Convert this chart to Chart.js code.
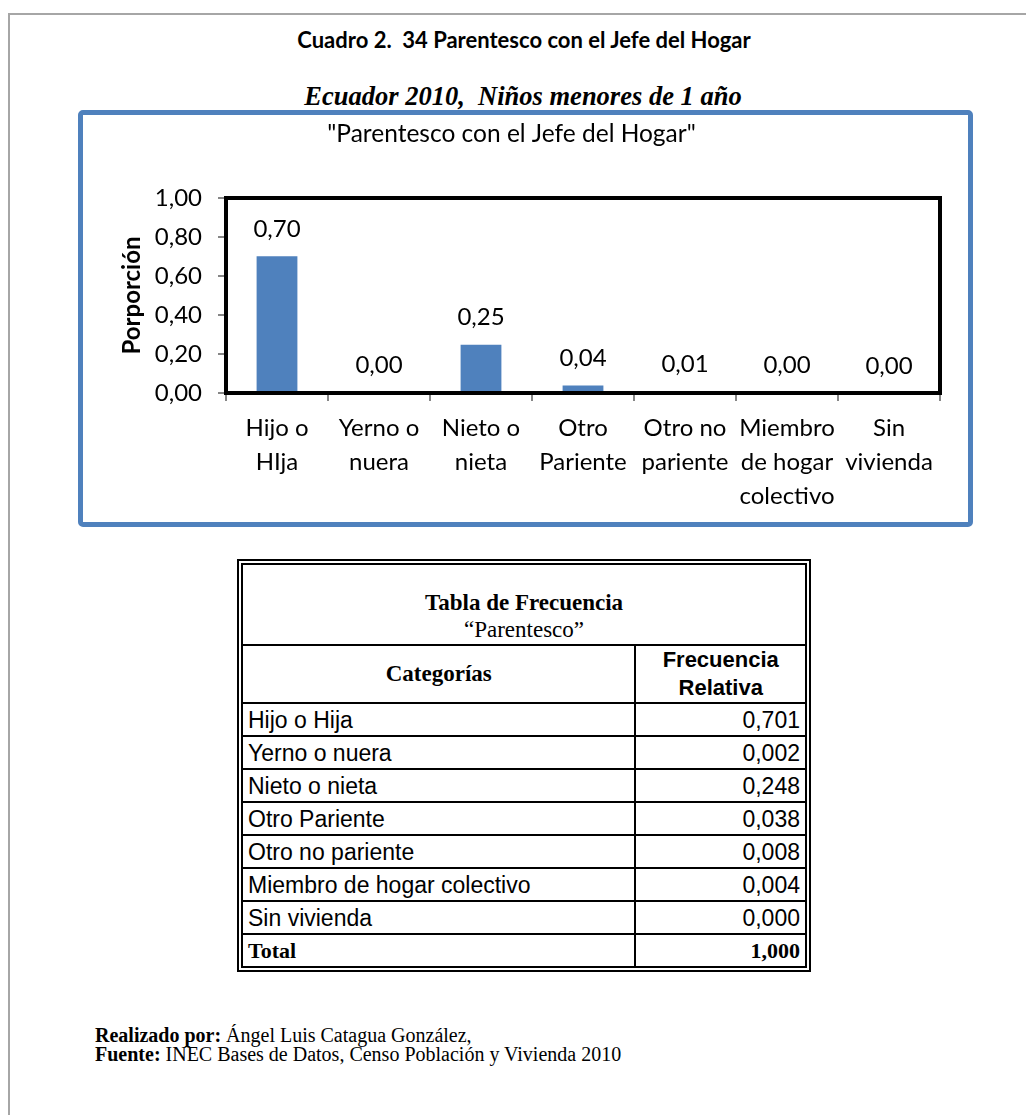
<!DOCTYPE html>
<html>
<head>
<meta charset="utf-8">
<script src="https://cdn.jsdelivr.net/npm/chart.js@4.4.1/dist/chart.umd.min.js"></script>
<style>
  html, body { margin: 0; padding: 0; background: #fff; }
  body { width: 1026px; height: 1115px; position: relative; overflow: hidden; }
  #frame { position: absolute; left: 8px; top: 13px; width: 1100px; height: 1200px;
           border-left: 2px solid #a6a6a6; border-top: 2px solid #a6a6a6; }
  #title { position: absolute; left: 0; top: 28px; width: 1048px; text-align: center;
           font: bold 22px/24px Lato, sans-serif; color: #000; white-space: pre; }
  #subtitle { position: absolute; left: 0; top: 81px; width: 1046px; text-align: center;
              font: italic bold 26.5px/30px "Liberation Serif", serif; color: #000; white-space: pre; }
  #chartBox { position: absolute; left: 78px; top: 110px; width: 895px; height: 417px;
              box-sizing: border-box; border: 5px solid #4F81BD; border-radius: 5px; background: #fff; }
  #chartBox canvas { position: absolute; left: 0; top: 0; }
  #freq { position: absolute; left: 237px; top: 559px; width: 574px;
          border-collapse: separate; border-spacing: 0; border: 6px double #000; }
  #freq td { padding: 0 5px; border-right: 2px solid #000; border-bottom: 2px solid #000;
             font: 23px/26px "Liberation Sans", Arial, sans-serif; color: #000; height: 31px; }
  #freq td.last { border-right: none; }
  #freq tr.lastrow td { border-bottom: none; }
  #freq td.num { text-align: right; }
  #freq td.head1 { text-align: center; vertical-align: bottom; height: 78px; padding-bottom: 1px;
                   font-family: "Liberation Serif", serif; }
  #freq .h1 { font: bold 23px/27px "Liberation Serif", serif; display: block; }
  #freq .h2 { font: 23px/27px "Liberation Serif", serif; display: block; }
  #freq td.head2a { text-align: center; font: bold 23px/28px "Liberation Serif", serif; height: 55px; }
  #freq td.head2b { text-align: center; font: bold 22px/28px "Liberation Sans", Arial, sans-serif; }
  #freq tr.lastrow td { font: bold 22px/26px "Liberation Serif", serif; }
  #footer { position: absolute; left: 95px; top: 1026px; font: 20px/19px "Liberation Serif", serif;
            color: #000; white-space: pre; }
</style>
</head>
<body>
<div id="frame"></div>
<div id="title">Cuadro 2.  34 Parentesco con el Jefe del Hogar</div>
<div id="subtitle">Ecuador 2010,  Niños menores de 1 año</div>
<div id="chartBox"><canvas id="c" width="885" height="407" style="width:885px;height:407px"></canvas></div>
<table id="freq"><tbody id="freqBody"></tbody></table>
<div id="footer"><b>Realizado por:</b> Ángel Luis Catagua González,
<b>Fuente:</b> INEC Bases de Datos, Censo Población y Vivienda 2010</div>

<script>
// ---------------- data ----------------
const categories = [["Hijo o","HIja"],["Yerno o","nuera"],["Nieto o","nieta"],["Otro","Pariente"],["Otro no","pariente"],["Miembro","de hogar","colectivo"],["Sin","vivienda"]];
const tableCategories = ["Hijo o Hija","Yerno o nuera","Nieto o nieta","Otro Pariente","Otro no pariente","Miembro de hogar colectivo","Sin vivienda"];
const proportions = [0.701, 0.002, 0.248, 0.038, 0.008, 0.004, 0.000];
const totalValue = 1.000;
const yTicks = [0, 0.2, 0.4, 0.6, 0.8, 1.0];
const chartTitle = '"Parentesco con el Jefe del Hogar"';
const yAxisTitle = 'Porporción';
const tableTitle = 'Tabla de Frecuencia';
const tableSubtitle = '\u201CParentesco\u201D';
const colHeaders = ['Categorías', 'Frecuencia<br>Relativa'];
const totalLabel = 'Total';

const fmt = (v, d) => v.toFixed(d).replace('.', ',');

// ---------------- table ----------------
(function buildTable() {
  const tb = document.getElementById('freqBody');
  let html = '<tr><td colspan="2" class="head1 last"><span class="h1">' + tableTitle +
             '</span><span class="h2">' + tableSubtitle + '</span></td></tr>';
  html += '<tr><td class="head2a">' + colHeaders[0] + '</td><td class="head2b last">' + colHeaders[1] + '</td></tr>';
  tableCategories.forEach((c, i) => {
    html += '<tr><td>' + c + '</td><td class="num last">' + fmt(proportions[i], 3) + '</td></tr>';
  });
  html += '<tr class="lastrow"><td>' + totalLabel + '</td><td class="num last">' + fmt(totalValue, 3) + '</td></tr>';
  tb.innerHTML = html;
})();

// ---------------- chart ----------------
const decoPlugin = {
  id: 'deco',
  afterDatasetsDraw(chart) {
    const { ctx, chartArea: a } = chart;
    ctx.save();
    ctx.strokeStyle = '#000';
    ctx.lineWidth = 4;
    ctx.strokeRect(a.left, a.top, a.right - a.left, a.bottom - a.top);
    const meta = chart.getDatasetMeta(0);
    ctx.font = '24px Lato';
    ctx.fillStyle = '#000';
    ctx.textAlign = 'center';
    ctx.textBaseline = 'middle';
    meta.data.forEach((bar, i) => {
      ctx.fillText(fmt(proportions[i], 2), bar.x, bar.y - 27);
    });
    ctx.restore();
  }
};

const labelFont = { family: 'Lato', size: 24, weight: 'normal' };

new Chart(document.getElementById('c'), {
  type: 'bar',
  data: {
    labels: categories,
    datasets: [{
      data: proportions,
      backgroundColor: '#4F81BD',
      borderWidth: 0,
      barPercentage: 0.4,
      categoryPercentage: 1.0
    }]
  },
  options: {
    responsive: false,
    animation: false,
    devicePixelRatio: 1,
    layout: { padding: { left: 0, right: 28, top: 0, bottom: 0 } },
    plugins: {
      legend: { display: false },
      tooltip: { enabled: false },
      title: {
        display: true, text: chartTitle, color: '#000',
        font: { family: 'Lato', size: 24.5, weight: 'normal', lineHeight: 1.2 },
        padding: { top: 4, bottom: 49.6 }
      }
    },
    scales: {
      x: {
        grid: { offset: true, drawOnChartArea: false, drawTicks: true, tickLength: 8, color: '#868686', lineWidth: 2 },
        border: { display: false },
        ticks: { color: '#000', font: { ...labelFont, lineHeight: 1.42 }, padding: 10, maxRotation: 0, minRotation: 0, autoSkip: false },
        afterFit(s) { s.height = 129; }
      },
      y: {
        min: 0, max: 1,
        grid: { drawOnChartArea: false, drawTicks: true, tickLength: 8, color: '#868686', lineWidth: 2 },
        border: { display: false },
        afterBuildTicks(s) { s.ticks = yTicks.map(v => ({ value: v })); },
        ticks: { color: '#000', font: labelFont, padding: 16, callback: v => fmt(v, 2) },
        title: { display: true, text: yAxisTitle, color: '#000',
                 font: { family: 'Lato', size: 24, weight: 'bold', lineHeight: 1.2 }, padding: { top: 35, bottom: 0 } },
        afterFit(s) { s.width = 143; }
      }
    }
  },
  plugins: [decoPlugin]
});
</script>
</body>
</html>
